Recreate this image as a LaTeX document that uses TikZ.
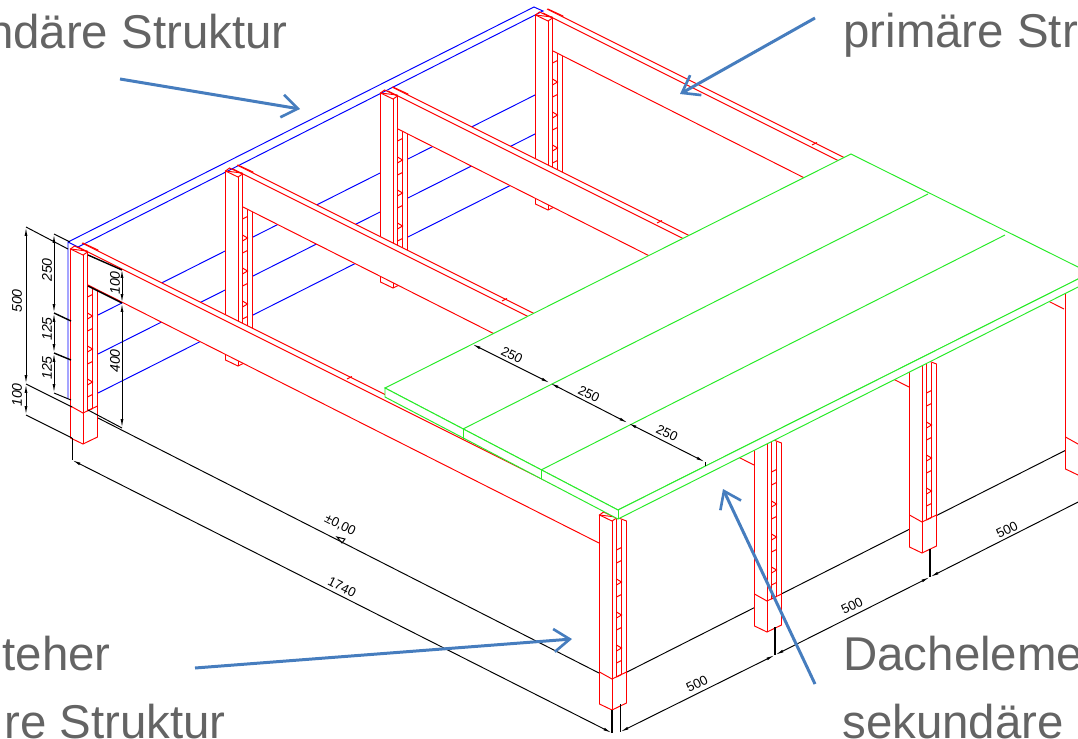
\documentclass[tikz,border=0pt]{standalone}
\usepackage{fontspec}
\setmainfont{Liberation Sans}
\usetikzlibrary{arrows.meta}
\definecolor{rot}{RGB}{255,0,0}
\definecolor{blau}{RGB}{0,0,255}
\definecolor{gruen}{RGB}{40,235,40}
\definecolor{pfeil}{RGB}{70,125,190}
\definecolor{schrift}{RGB}{100,100,100}
\tikzset{
  linie/.style={line width=.55pt},
  mass/.style={linie, black, {Latex[length=5pt,width=1.6pt]}-{Latex[length=5pt,width=1.6pt]}},
  hilfs/.style={linie, black},
  dick/.style={line width=.8pt, black},
  zahl/.style={font=\fontsize{7.5}{9}\selectfont, inner sep=0pt},
  schraeg/.style={zahl, font=\fontsize{8}{9}\selectfont\itshape, rotate=90},
  titel/.style={font=\fontsize{27}{32}\selectfont, text=schrift, inner sep=0pt},
  zeiger/.style={line width=1.7pt, pfeil, -{Straight Barb[length=9pt,width=13pt,line width=1.5pt]}},
  pics/steher/.style={
    code={
      \draw[linie,rot,fill=white] (-12.5,-195) -- (-12.5,-6) -- (0,0) -- (14.5,-7) -- (14.5,-189) -- (4,-193) -- cycle;
      \draw[linie,rot] (-12.5,-38) -- (0,-31) -- (14.5,-38);
      \draw[linie,rot] (-12.5,-195) -- (-8.5,-198) -- (4.5,-192) -- (0,-189) -- cycle;
      \draw[linie,rot] (0,0) -- (0,-189);
      \draw[linie,rot] (4.5,-33) -- (4.5,-192);
      \draw[linie,rot] (9.5,-35) -- (9.5,-190);
      \foreach \t in {-33,-47,-80,-113,-147,-160}
        \draw[linie,rot] (4.5,\t) -- (9.5,\t-2.5);
      \foreach \t in {-62,-95,-128}
        \draw[linie,rot] (4.5,\t-3) -- (9.5,\t) -- (4.5,\t+3);
    }
  },
  pics/traeger/.style={
    code={
      \draw[linie,rot] (0,-201) -- (15,-194) -- (15,-191);
      \fill[white] (5,-198) -- (5,-159) -- (516,99) -- (516,57.5) -- cycle;
      \draw[linie,rot] (-1,-201) -- (516,57.5);
      \draw[linie,rot] (-5,-197) -- (516,63.5);
      \draw[linie,rot] (5,-159) -- (516,99);
      \draw[linie,rot] (264,-65) -- (269,-67.5);
    }
  }
}

\begin{document}
\begin{tikzpicture}[x=.02cm,y=-.02cm]
  \useasboundingbox (0,0) rectangle (1078,738);
  \clip (0,0) rectangle (1078,738);

  \draw[linie,blau] (68,399) -- (68,242) -- (534,7) -- (543,11) -- (78,247) -- (68,242);
  \foreach \y in {315,354,393}
    \draw[linie,blau] (98,\y) -- (537,\y-221);

  \draw[hilfs] (98,418) -- (599,673);
  \draw[hilfs] (625,673) -- (1078,444);

  \foreach \mx/\my in {548/210,393/288,238/366,83/444} {
    \pic at (\mx,\my) {steher};
    \pic at (\mx,\my) {traeger};
  }
  \foreach \mx/\my in {1078/475,922/553,767/632,612/710}
    \pic at (\mx,\my) {steher};

  \draw[linie,gruen,fill=white] (385,388) -- (851,154) -- (1090,273) -- (618,510) -- cycle;
  \draw[linie,gruen,fill=white] (385,388) -- (385,397) -- (618,519) -- (1090,281) -- (1084,276) -- (618,510) -- cycle;
  \draw[linie,gruen] (463,429) -- (928,194);
  \draw[linie,gruen] (541,470) -- (1005,235);
  \draw[linie,gruen] (463,429) -- (463,439);
  \draw[linie,gruen] (541,470) -- (541,479);
  \draw[linie,gruen] (618,510) -- (618,519);

  % Masse links
  \draw[mass] (26,227) -- (26,384);
  \draw[mass] (26,384) -- (26,415);
  \draw[hilfs] (26,227) -- (68,249);
  \draw[hilfs] (26,384) -- (72,407);
  \draw[hilfs] (26,415) -- (72,438);
  \draw[mass] (54,234) -- (54,313);
  \draw[mass] (54,313) -- (54,353);
  \draw[mass] (54,353) -- (54,393);
  \draw[hilfs] (54,234) -- (70,242);
  \draw[dick] (54,313) -- (71,321);
  \draw[dick] (54,353) -- (71,360);
  \draw[hilfs] (54,393) -- (71,400);
  \draw[mass] (122,269) -- (122,303);
  \draw[mass] (122,303) -- (122,428);
  \draw[dick] (88,255) -- (122,270);
  \draw[dick] (88,286) -- (122,303);
  \draw[hilfs] (88,410) -- (122,428);

  % Masse unten
  \draw[mass] (72,460) -- (612,733);
  \draw[hilfs] (72,438) -- (72,460);
  \draw[dick] (612,710) -- (612,733);
  \draw[mass] (620,732) -- (775,655);
  \draw[mass] (775,655) -- (930,577);
  \draw[mass] (930,577) -- (1090,496);
  \draw[hilfs] (620,704) -- (620,732);
  \draw[dick] (775,627) -- (775,655);
  \draw[dick] (930,549) -- (930,577);

  % Masse Dach
  \draw[mass] (472,344) -- (550,383);
  \draw[mass] (550,383) -- (628,423);
  \draw[mass] (628,423) -- (705,462);
  \draw[hilfs] (705,462) -- (705,466);

  \node[schraeg] (m500) at (17,301) {500};
  \node[schraeg] (m100a) at (17,395) {100};
  \node[schraeg] (m250) at (47,270) {250};
  \node[schraeg] (m125a) at (47,329) {125};
  \node[schraeg] (m125b) at (47,368) {125};
  \node[schraeg] (m100b) at (115,283) {100};
  \node[schraeg] (m400) at (115,361) {400};
  \node[zahl,rotate=-26.6] (d250a) at (512,355) {250};
  \node[zahl,rotate=-26.6] (d250b) at (589,394) {250};
  \node[zahl,rotate=-26.6] (d250c) at (667,433) {250};
  \node[zahl,rotate=26.6] (b500a) at (697,684) {500};
  \node[zahl,rotate=26.6] (b500b) at (852,606) {500};
  \node[zahl,rotate=26.6] (b500c) at (1007,530) {500};
  \node[zahl,rotate=-26.6] (hoehe) at (340,525) {±0,00};
  \node[zahl,rotate=-26.6] (laenge) at (342,587) {1740};
  \draw[hilfs] (337,537) -- (345,539) -- (342,543) -- cycle;

  \node[titel,anchor=base east] (sek) at (288,48) {ndäre Struktur};
  \node[titel,anchor=base west] (prim) at (843,47) {primäre Str};
  \node[titel,anchor=base east] (steh) at (111,670) {teher};
  \node[titel,anchor=base east] (primb) at (226,738) {re Struktur};
  \node[titel,anchor=base west] (dach) at (843,670) {Dacheleme};
  \node[titel,anchor=base west] (sekb) at (842,738) {sekundäre};

  \coordinate (sekstart) at (120,79);
  \coordinate (sekziel) at (300,109);
  \coordinate (primstart) at (815,18);
  \coordinate (primziel) at (680,94);
  \coordinate (stehstart) at (195,668);
  \coordinate (stehziel) at (572,639);
  \coordinate (dachstart) at (815,684);
  \coordinate (dachziel) at (723,489);
  \draw[zeiger] (sekstart) -- (sekziel);
  \draw[zeiger] (primstart) -- (primziel);
  \draw[zeiger] (stehstart) -- (stehziel);
  \draw[zeiger] (dachstart) -- (dachziel);
\end{tikzpicture}
\end{document}
